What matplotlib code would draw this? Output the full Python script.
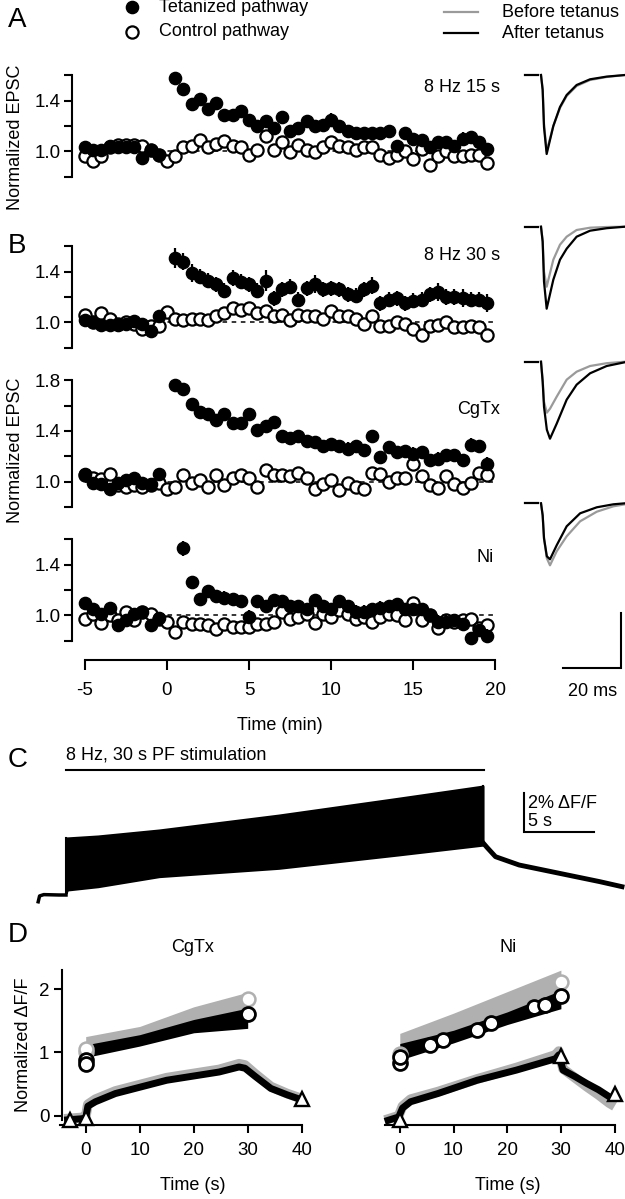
import numpy as np
import matplotlib
matplotlib.use("Agg")
import matplotlib.pyplot as plt

plt.rcParams['font.family'] = ['Liberation Sans', 'DejaVu Sans']
nan = np.nan
W, H = 625, 1199

# ---------------- time course data (normalized EPSC) ----------------
time_min = np.arange(-5.0, 20.0, 0.5)

A_tet = [1.03, 1.01, 1.01, 1.04, 1.03, 1.03, 1.03, 0.95, 1.01, 0.97, nan,
         1.58, 1.49, 1.37, 1.41, 1.33, 1.38, 1.29, 1.29, 1.32, 1.25, 1.20, 1.24, 1.18, 1.27, 1.16,
         1.18, 1.24, 1.20, 1.21, 1.25, 1.20, 1.16, 1.14, 1.14, 1.14, 1.14, 1.16, 1.04, 1.14,
         1.10, 1.09, 1.03, 1.07, 1.07, 1.04, 1.10, 1.11, 1.07, 1.02]
A_tet_err = [0.02] * 10 + [nan] + \
    [0.02, 0.02, 0.02, 0.02, 0.02, 0.02, 0.02, 0.02, 0.02, 0.02,
     0.02, 0.03, 0.03, 0.03, 0.03, 0.04, 0.04, 0.05, 0.04, 0.05,
     0.05, 0.04, 0.04, 0.04, 0.04, 0.04, 0.04, 0.03, 0.04, 0.04,
     0.04, 0.03, 0.04, 0.04, 0.05, 0.05, 0.04, 0.04, 0.04]
A_ctl = [0.96, 0.92, 0.96, 1.03, 1.05, 1.05, 1.05, 1.04, 1.01, 0.97, 0.92,
         0.96, 1.03, 1.04, 1.09, 1.03, 1.06, 1.08, 1.04, 1.03, 0.97,
         1.01, 1.12, 1.01, 1.07, 0.99, 1.05, 1.01, 0.99, 1.03, 1.07,
         1.04, 1.03, 1.01, 1.03, 1.03, 0.97, 0.95, 0.97, 1.00, 0.94,
         1.02, 0.89, 0.96, 1.00, 0.96, 0.96, 0.97, 0.97, 0.91]
A_ctl_err = [0.02] * 21 + [0.03] * 10 + [0.04, 0.03, 0.04, 0.05, 0.04, 0.04, 0.04, 0.04, 0.04, 0.05,
                                         0.03, 0.04, 0.04, 0.04, 0.04, 0.04, 0.03, 0.04, 0.04]

B_tet = [1.02, 1.00, 0.98, 0.98, 0.98, 0.99, 1.01, 0.99, 0.93, 1.05, nan,
         1.51, 1.48, 1.39, 1.36, 1.33, 1.30, 1.25, 1.35, 1.32, 1.30,
         1.25, 1.33, 1.19, 1.26, 1.28, 1.18, 1.27, 1.30, 1.26, 1.27,
         1.26, 1.22, 1.21, 1.26, 1.29, 1.15, 1.18, 1.19, 1.15,
         1.17, 1.18, 1.22, 1.24, 1.20, 1.20, 1.19, 1.18, 1.18, 1.15]
B_tet_err = [0.02] * 10 + [nan] + \
    [0.08, 0.07, 0.07, 0.06, 0.06, 0.06, 0.06, 0.06, 0.06, 0.06,
     0.06, 0.08, 0.06, 0.06, 0.06, 0.06, 0.06, 0.07, 0.06, 0.06,
     0.06, 0.06, 0.06, 0.06, 0.07, 0.06, 0.06, 0.06, 0.06, 0.06,
     0.06, 0.06, 0.07, 0.06, 0.06, 0.07, 0.06, 0.06, 0.07]
B_ctl = [1.06, 1.00, 1.07, 1.03, 0.99, 1.00, 0.99, 0.95, 0.97, 0.97, 1.08,
         1.03, 1.02, 1.03, 1.03, 1.02, 1.05, 1.07, 1.11, 1.10, 1.11,
         1.07, 1.09, 1.05, 1.06, 1.02, 1.06, 1.05, 1.05, 1.03, 1.09,
         1.05, 1.05, 1.03, 0.99, 1.05, 0.97, 0.97, 1.00, 0.99,
         0.95, 0.90, 0.97, 0.98, 1.00, 0.96, 0.96, 0.97, 0.96, 0.90]
B_ctl_err = [0.02] * 21 + [0.03] * 29

C_tet = [1.06, 0.99, 0.98, 0.94, 0.99, 1.01, 1.03, 0.99, 0.98, 1.06, nan,
         1.76, 1.73, 1.61, 1.55, 1.53, 1.49, 1.53, 1.46, 1.46, 1.53,
         1.41, 1.44, 1.47, 1.36, 1.34, 1.36, 1.32, 1.31, 1.28, 1.30,
         1.28, 1.26, 1.28, 1.25, 1.36, 1.19, 1.27, 1.23, 1.24,
         1.22, 1.23, 1.17, 1.18, 1.21, 1.21, 1.17, 1.29, 1.28, 1.14]
C_tet_err = [0.03] * 10 + [nan] + [0.04] * 20 + [0.05] * 19
C_ctl = [1.05, 1.03, 1.02, 1.06, 0.97, 0.96, 0.97, 0.96, 0.97, 0.99, 0.94,
         0.96, 1.05, 0.99, 1.01, 0.96, 1.05, 0.97, 1.03, 1.05, 1.03,
         0.96, 1.09, 1.05, 1.05, 1.04, 1.07, 1.03, 0.94, 0.98, 1.01,
         0.93, 0.99, 0.96, 0.94, 1.07, 1.06, 1.00, 1.03, 1.03,
         1.14, 1.04, 0.97, 0.95, 1.04, 0.98, 0.95, 0.99, 1.07, 1.05]
C_ctl_err = [0.03] * 50

N_tet = [1.10, 1.05, 1.01, 1.06, 0.92, 0.96, 1.01, 1.03, 0.92, 0.98, nan, nan,
         1.53, 1.26, 1.13, 1.19, 1.15, 1.14, 1.13, 1.11, 0.99, 1.11,
         1.07, 1.12, 1.11, 1.07, 1.07, 1.05, 1.12, 1.07, 1.05, 1.11,
         1.07, 1.03, 1.03, 1.05, 1.06, 1.07, 1.09, 1.05,
         1.05, 1.05, 1.00, 0.95, 0.95, 0.96, 0.93, 0.82, 0.88, 0.84]
N_tet_err = [0.03] * 10 + [nan, nan] + [0.06, 0.04, 0.03] + [0.05] * 35
N_ctl = [0.97, 1.01, 0.94, 1.00, 0.96, 1.03, 0.96, 1.03, 1.01, 0.97, 0.95,
         0.87, 0.95, 0.93, 0.93, 0.92, 0.89, 0.93, 0.91, 0.91, 0.91,
         0.93, 0.93, 0.95, 1.03, 0.97, 0.99, 1.01, 0.94, 1.01, 0.99,
         1.04, 1.01, 0.97, 0.99, 0.95, 0.99, 1.01, 1.00, 0.96,
         1.10, 0.96, 1.00, 0.90, 0.96, 0.95, 0.96, 0.97, 0.90, 0.92]
N_ctl_err = [0.03] * 50

panel_labels = ["8 Hz 15 s", "8 Hz 30 s", "CgTx", "Ni"]

# ---------------- example EPSC traces (ms, arbitrary current units) ----------------
epscA_t = [0, 0.57, 1.03, 1.94, 4.22, 6.5, 8.79, 12.2, 16.8, 22.5, 28.8]
epscA_before = [0, -14, -49, -76, -51, -33, -21, -11, -5, -2, 0]
epscA_after = [0, -15, -52, -79, -51, -32, -20, -10, -4.3, -1.6, 0]
epscB_t = [0, 0.57, 1.03, 1.94, 4.22, 6.5, 8.79, 12.2, 16.8, 22.5, 28.8]
epscB_before = [0, -14, -45, -60, -33, -18, -10, -3.3, -1, -0.3, 0]
epscB_after = [0, -15, -55, -82, -53, -33, -22, -10, -4, -1.5, 0]
epscC_t = [0, 0.57, 1.03, 2.0, 3.08, 5.37, 8.79, 12.2, 16.8, 22.5, 28.8]
epscC_before = [0, -18, -40, -51, -47, -35, -18, -10, -4.3, -1.5, 0]
epscC_after = [0, -20, -45, -68, -77, -62, -38, -23, -11.6, -4.3, -0.5]
epscN_t = [0, 0.57, 1.03, 2.0, 3.08, 5.37, 8.79, 13.4, 19.1, 24.8, 28.8]
epscN_before = [0, -12, -35, -55, -62, -48, -33, -18, -8.4, -3, -1]
epscN_after = [0, -12, -35, -53, -56, -42, -23, -10, -4, -1, 0]

# ---------------- panel C: fluorescence (% dF/F) ----------------
fluo_pre_t = [-2.0, -1.9, -1.6, -0.5, 0.0]
fluo_pre = [-0.35, -0.05, 0.02, 0.0, 0.0]
fluo_train_t = [0.0, 0.1, 2.3, 6.7, 15.3, 23.9, 30.0]
fluo_train_hi = [2.95, 2.95, 3.05, 3.36, 4.13, 5.00, 5.63]
fluo_train_lo = [0.10, 0.26, 0.43, 0.95, 1.38, 2.07, 2.58]
fluo_decay_t = [30.0, 30.3, 30.9, 32.6, 35.5, 38.4, 40.0]
fluo_decay = [2.70, 2.45, 1.98, 1.55, 1.12, 0.69, 0.43]

# ---------------- panel D: normalized dF/F ----------------
dC_t = [0, 10, 20, 30]
dC_gray_hi = [1.25, 1.41, 1.72, 1.95]
dC_gray_lo = [1.00, 1.20, 1.45, 1.66]
dC_black_hi = [1.12, 1.28, 1.52, 1.70]
dC_black_lo = [0.92, 1.10, 1.31, 1.38]
dC_low_t = [-4.0, -1.0, 0.0, 0.4, 1.8, 5.5, 15.0, 24.7, 28.4, 29.5, 31.4, 34.3, 37.3, 40.0]
dC_low_black = [-0.07, -0.05, -0.04, 0.15, 0.22, 0.35, 0.56, 0.69, 0.77, 0.75, 0.62, 0.43, 0.33, 0.25]
dC_low_gray = [-0.05, -0.03, -0.02, 0.18, 0.26, 0.39, 0.60, 0.73, 0.82, 0.80, 0.66, 0.46, 0.35, 0.27]
dC_circ_gray_t, dC_circ_gray = [0, 0, 30], [1.00, 1.06, 1.85]
dC_circ_black_t, dC_circ_black = [0, 0, 30], [0.88, 0.82, 1.60]
dC_tri_t, dC_tri = [-3, 0, 40], [-0.07, -0.04, 0.27]

dN_t = [0, 10, 20, 30]
dN_gray_hi = [1.30, 1.62, 1.96, 2.30]
dN_gray_lo = [1.00, 1.25, 1.55, 1.85]
dN_black_hi = [1.14, 1.35, 1.64, 1.98]
dN_black_lo = [0.88, 1.15, 1.44, 1.69]
dN_low_t = [-2.8, -0.2, 0.5, 2.0, 7.1, 14.4, 21.7, 29.0, 29.6, 30.4, 32.6, 34.8, 37.0, 39.0, 40.0]
dN_low_black = [-0.09, -0.02, 0.12, 0.22, 0.35, 0.56, 0.72, 0.90, 0.96, 0.72, 0.62, 0.51, 0.41, 0.30, 0.27]
dN_low_gray = [-0.07, 0.00, 0.15, 0.26, 0.38, 0.58, 0.76, 0.96, 1.02, 0.74, 0.60, 0.46, 0.33, 0.20, 0.15]
dN_circ_gray_t, dN_circ_gray = [0, 30], [0.97, 2.12]
dN_circ_black_t = [0, 0, 5.6, 8, 14.4, 17, 25, 27, 30]
dN_circ_black = [0.83, 0.93, 1.12, 1.2, 1.35, 1.46, 1.72, 1.75, 1.89]
dN_tri_t, dN_tri = [0, 30, 40], [-0.07, 0.94, 0.35]

# ================= figure =================
fig = plt.figure(figsize=(W / 100, H / 100), dpi=100)
FS = 13
TFS = 13.5
MS = 8.8


def add_ax(l, t, r, b):
    return fig.add_axes([l / W, 1 - b / H, (r - l) / W, (b - t) / H])


def xmin_of_px(px):
    return -5 + (px - 84.9) / 16.42


tc = [
    (A_tet, A_tet_err, A_ctl, A_ctl_err, 62, 190, 151.2, 1.6),
    (B_tet, B_tet_err, B_ctl, B_ctl_err, 233, 360, 322.3, 1.6),
    (C_tet, C_tet_err, C_ctl, C_ctl_err, 368, 520, 481.5, 1.8),
    (N_tet, N_tet_err, N_ctl, N_ctl_err, 527, 650, 615.3, 1.6),
]
PPU = 126.5
for i, (tet, tete, ctl, ctle, top, bot, p1, ytop) in enumerate(tc):
    ax = add_ax(55, top, 505, bot)
    ax.set_xlim(xmin_of_px(55), xmin_of_px(505))
    ax.set_ylim(1.0 - (bot - p1) / PPU, 1.0 + (p1 - top) / PPU)
    ax.patch.set_alpha(0)
    for s in ['top', 'right']:
        ax.spines[s].set_visible(False)
    ax.spines['left'].set_position(('data', xmin_of_px(71.7)))
    ax.spines['left'].set_bounds(0.8, ytop)
    ax.spines['left'].set_linewidth(1.5)
    yt = list(np.round(np.arange(0.8, ytop + 0.01, 0.2), 1))
    ax.set_yticks(yt)
    ax.set_yticklabels(['1.0' if abs(v - 1.0) < 1e-6 else '1.4' if abs(v - 1.4) < 1e-6
                        else '1.8' if abs(v - 1.8) < 1e-6 else '' for v in yt])
    ax.tick_params(axis='y', length=6, width=1.5, labelsize=TFS, pad=2)
    ax.plot([-5, 20], [1.0, 1.0], color='black', lw=1.1, ls=(0, (3, 3)), zorder=1)
    ax.errorbar(time_min, ctl, yerr=ctle, fmt='none', ecolor='black', elinewidth=1.6, zorder=2)
    ax.plot(time_min, ctl, 'o', ms=MS, mfc='white', mec='black', mew=1.6, zorder=3, clip_on=False)
    ax.errorbar(time_min, tet, yerr=tete, fmt='none', ecolor='black', elinewidth=1.6, zorder=4)
    ax.plot(time_min, tet, 'o', ms=MS, mfc='black', mec='black', zorder=5, clip_on=False)
    if i < 3:
        ax.spines['bottom'].set_visible(False)
        ax.set_xticks([])
    else:
        ax.spines['bottom'].set_position(('outward', 7.2))
        ax.spines['bottom'].set_bounds(-5, 20)
        ax.spines['bottom'].set_linewidth(1.5)
        ax.set_xticks([-5, 0, 5, 10, 15, 20])
        ax.set_xticklabels(['-5', '0', '5', '10', '15', '20'])
        ax.tick_params(axis='x', length=7, width=1.5, labelsize=TFS, pad=9)


# ---------------- EPSC traces ----------------
def tms_of_px(px):
    return (px - 541) / 2.92


traces = [
    (epscA_t, epscA_before, epscA_after, 65, 170, 75.0),
    (epscB_t, epscB_before, epscB_after, 216, 320, 226.7),
    (epscC_t, epscC_before, epscC_after, 351, 455, 361.7),
    (epscN_t, epscN_before, epscN_after, 493, 705, 503.3),
]
for k, (tt, vb, va, top, bot, base) in enumerate(traces):
    ax = add_ax(518, top, 625, bot)
    ax.set_xlim(tms_of_px(518), tms_of_px(625))
    ax.set_ylim(-(bot - base), base - top)
    ax.axis('off')
    ax.plot([tms_of_px(525), tms_of_px(538)], [0, 0], color='black', lw=1.6)
    ax.plot(tt, vb, color='#9a9a9a', lw=1.6)
    ax.plot(tt, va, color='black', lw=1.6)
    if k == 3:
        x0, x1 = tms_of_px(563), tms_of_px(563) + 20
        ax.plot([x0, x1, x1], [-(668 - base), -(668 - base), -(613 - base)],
                color='black', lw=1.5, solid_joinstyle='miter')
        ax.text((x0 + x1) / 2, -(692 - base), '20 ms', ha='center', va='center', fontsize=FS)


# ---------------- panel C ----------------
def tc_of_px(px):
    return (px - 66) / 13.9


def fc_of_py(py):
    return (895 - py) / 19.35


axc = add_ax(20, 740, 625, 915)
axc.set_xlim(tc_of_px(20), tc_of_px(625))
axc.set_ylim(fc_of_py(915), fc_of_py(740))
axc.axis('off')
axc.plot(fluo_pre_t, fluo_pre, color='black', lw=2.5)
axc.fill_between(fluo_train_t, fluo_train_lo, fluo_train_hi, color='black', lw=1.5, edgecolor='black')
axc.plot([0, 0], [0, fluo_train_hi[0]], color='black', lw=1.5)
axc.plot(fluo_decay_t, fluo_decay, color='black', lw=3.5)
axc.plot([30, 30], [fluo_decay[0], fluo_train_hi[-1]], color='black', lw=1.5)
axc.plot([0, 30.1], [fc_of_py(770)] * 2, color='black', lw=1.5)
axc.text(0, fc_of_py(755), '8 Hz, 30 s PF stimulation', ha='left', va='center', fontsize=FS)
sx = tc_of_px(524)
axc.plot([sx, sx, sx + 5], [fc_of_py(831.7) + 2, fc_of_py(831.7), fc_of_py(831.7)],
         color='black', lw=1.5, solid_joinstyle='miter')
axc.text(sx + 0.3, fc_of_py(803), '2% ΔF/F', ha='left', va='center', fontsize=FS)
axc.text(sx + 0.3, fc_of_py(821), '5 s', ha='left', va='center', fontsize=FS)


# ---------------- panel D ----------------
def d_y(py):
    return (1115.7 - py) / 63.3


def draw_d(ax, t, ghi, glo, bhi, blo, lt, lb, lg, cgt, cg, cbt, cb, trt, tr):
    ax.fill_between(t, glo, ghi, color='#b0b0b0', lw=0, zorder=1)
    ax.fill_between(t, blo, bhi, color='black', lw=0, zorder=2)
    ax.plot(lt, lg, color='#b0b0b0', lw=7, zorder=1, solid_capstyle='butt')
    ax.plot(lt, lb, color='black', lw=5, zorder=2, solid_capstyle='butt')
    ax.plot(cgt, cg, 'o', ms=10, mfc='white', mec='#b0b0b0', mew=1.8, zorder=3, clip_on=False)
    ax.plot(cbt, cb, 'o', ms=10, mfc='white', mec='black', mew=2.0, zorder=4, clip_on=False)
    ax.plot(trt, tr, '^', ms=9.5, mfc='white', mec='black', mew=1.7, zorder=4, clip_on=False)


axdl = add_ax(40, 955, 320, 1135)
axdl.set_xlim((40 - 85.7) / 5.4, (320 - 85.7) / 5.4)
axdl.set_ylim(d_y(1135), d_y(955))
draw_d(axdl, dC_t, dC_gray_hi, dC_gray_lo, dC_black_hi, dC_black_lo, dC_low_t, dC_low_black,
       dC_low_gray, dC_circ_gray_t, dC_circ_gray, dC_circ_black_t, dC_circ_black, dC_tri_t, dC_tri)
axdr = add_ax(370, 955, 625, 1135)
axdr.set_xlim((370 - 399.8) / 5.37, (625 - 399.8) / 5.37)
axdr.set_ylim(d_y(1135), d_y(955))
draw_d(axdr, dN_t, dN_gray_hi, dN_gray_lo, dN_black_hi, dN_black_lo, dN_low_t, dN_low_black,
       dN_low_gray, dN_circ_gray_t, dN_circ_gray, dN_circ_black_t, dN_circ_black, dN_tri_t, dN_tri)
for ax, x0 in [(axdl, -4.8), (axdr, -2.8)]:
    ax.patch.set_alpha(0)
    for s in ['top', 'right']:
        ax.spines[s].set_visible(False)
    ax.spines['bottom'].set_position(('data', d_y(1125)))
    ax.spines['bottom'].set_bounds(x0, 40)
    ax.spines['bottom'].set_linewidth(1.5)
    ax.set_xticks([0, 10, 20, 30, 40])
    ax.tick_params(axis='x', length=6, width=1.5, labelsize=TFS, pad=6)
axdl.spines['left'].set_position(('data', (61.8 - 85.7) / 5.4))
axdl.spines['left'].set_bounds(-0.07, 2.3)
axdl.spines['left'].set_linewidth(1.5)
axdl.set_yticks([0, 1, 2])
axdl.tick_params(axis='y', length=6, width=1.5, labelsize=TFS, pad=3)
axdr.spines['left'].set_visible(False)
axdr.set_yticks([])

# ---------------- overlay text / legend ----------------
ov = fig.add_axes([0, 0, 1, 1], zorder=10)
ov.set_xlim(0, W)
ov.set_ylim(H, 0)
ov.axis('off')
ov.patch.set_alpha(0)
for lab, (x, y) in zip("ABCD", [(8, 20), (8, 246), (8, 760), (8, 935)]):
    ov.text(x, y, lab, fontsize=20, ha='left', va='center')
ov.plot([131.5], [7], 'o', ms=MS, mfc='black', mec='black')
ov.plot([131.5], [32], 'o', ms=MS, mfc='white', mec='black', mew=1.6)
ov.text(159, 7, 'Tetanized pathway', fontsize=FS, va='center', ha='left')
ov.text(159, 32, 'Control pathway', fontsize=FS, va='center', ha='left')
ov.plot([444, 478], [12.3, 12.3], color='#9a9a9a', lw=1.6)
ov.plot([444, 478], [33.3, 33.3], color='black', lw=1.6)
ov.text(502, 12.3, 'Before tetanus', fontsize=FS, va='center', ha='left')
ov.text(502, 33.3, 'After tetanus', fontsize=FS, va='center', ha='left')
for lab, (x, y) in zip(panel_labels, [(500, 88), (500, 255), (500, 410), (494, 558)]):
    ov.text(x, y, lab, fontsize=FS, ha='right', va='center')
ov.text(16, 137, 'Normalized EPSC', fontsize=FS, rotation=90, ha='center', va='center')
ov.text(16, 450, 'Normalized EPSC', fontsize=FS, rotation=90, ha='center', va='center')
ov.text(280, 725, 'Time (min)', fontsize=FS, ha='center', va='center')
ov.text(24, 1045, 'Normalized ΔF/F', fontsize=FS, rotation=90, ha='center', va='center')
ov.text(193, 947, 'CgTx', fontsize=FS, ha='center', va='center')
ov.text(508, 947, 'Ni', fontsize=FS, ha='center', va='center')
ov.text(193, 1185, 'Time (s)', fontsize=FS, ha='center', va='center')
ov.text(508, 1185, 'Time (s)', fontsize=FS, ha='center', va='center')

fig.savefig('out.png', dpi=100)
